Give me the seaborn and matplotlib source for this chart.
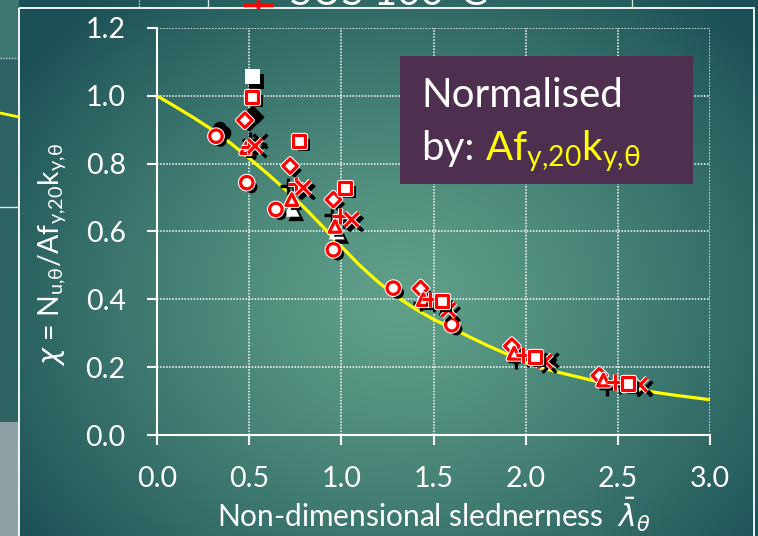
import numpy as np
import pandas as pd
import matplotlib
matplotlib.use("Agg")
import matplotlib.pyplot as plt
import matplotlib.patheffects as pe
from matplotlib.patches import Rectangle
import seaborn as sns

# ---------------- data ----------------
lam_curve = [0.0, 0.1, 0.2, 0.3, 0.4, 0.5, 0.6, 0.7, 0.8, 0.9, 1.0,
             1.1, 1.2, 1.3, 1.4, 1.5, 1.6, 1.7, 1.8, 1.9, 2.0,
             2.1, 2.2, 2.3, 2.4, 2.5, 2.6, 2.7, 2.8, 2.9, 3.0]
chi_curve = [1.000, 0.968, 0.935, 0.900, 0.860, 0.816, 0.770, 0.722, 0.670, 0.614, 0.556,
             0.500, 0.451, 0.408, 0.372, 0.341, 0.315, 0.288, 0.262, 0.238, 0.214,
             0.196, 0.182, 0.169, 0.156, 0.145, 0.135, 0.126, 0.118, 0.111, 0.104]

# FE-type results (red outlined markers), grouped by specimen series
fe_group = (["G1"] * 6 + ["G2"] * 6 + ["G3"] * 6 + ["G4"] * 6 + ["G5"] * 6 + ["G6"] * 6)
fe_lam = [0.320, 0.487, 0.645, 0.957, 1.282, 1.599,
          0.477, 0.722, 0.957, 1.430, 1.925, 2.400,
          0.487, 0.731, 0.966, 1.445, 1.937, 2.422,
          0.500, 0.752, 0.993, 1.480, 1.988, 2.485,
          0.532, 0.794, 1.056, 1.581, 2.105, 2.621,
          0.517, 0.771, 1.020, 1.545, 2.051, 2.557]
fe_chi = [0.881, 0.744, 0.665, 0.546, 0.433, 0.325,
          0.928, 0.793, 0.694, 0.432, 0.262, 0.175,
          0.847, 0.694, 0.615, 0.399, 0.241, 0.162,
          0.850, 0.739, 0.645, 0.400, 0.236, 0.157,
          0.852, 0.729, 0.635, 0.369, 0.217, 0.148,
          0.997, 0.867, 0.729, 0.394, 0.231, 0.152]

# Test-type results (black / white markers)
test_group = ["G1", "G2", "G3", "G3", "G6",
              "G4", "G4", "G4", "G4", "G4", "G4",
              "G5", "G5", "G5", "G5", "G5", "G5"]
test_lam = [0.342, 0.519, 0.731, 0.975, 0.517,
            0.505, 0.710, 0.948, 1.430, 1.950, 2.440,
            0.559, 0.810, 1.070, 1.570, 2.140, 2.650]
test_chi = [0.903, 0.950, 0.667, 0.600, 1.056,
            0.871, 0.733, 0.650, 0.390, 0.217, 0.140,
            0.866, 0.720, 0.625, 0.375, 0.222, 0.140]

x_ticks = [0.0, 0.5, 1.0, 1.5, 2.0, 2.5, 3.0]
y_ticks = [0.0, 0.2, 0.4, 0.6, 0.8, 1.0, 1.2]
x_label = r"Non-dimensional slednerness  $\bar{\lambda}_{\theta}$"
y_label = r"$\chi$ = N$_{\mathregular{u{,}θ}}$/Af$_{\mathregular{y{,}20}}$k$_{\mathregular{y{,}θ}}$"
note_line1 = "Normalised"
note_line2 = "by:"
note_yellow = r"Af$_{\mathregular{y{,}20}}$k$_{\mathregular{y{,}θ}}$"
top_text = "SUS 100°C"

# ---------------- styles ----------------
MARK = {"G1": "o", "G2": "D", "G3": "^", "G4": "+", "G5": "x", "G6": "s"}
FE_SIZE = {"G1": 80, "G2": 55, "G3": 70, "G4": 125, "G5": 100, "G6": 76}
TEST_SIZE = {"G1": 100, "G2": 60, "G3": 130, "G4": 125, "G5": 100, "G6": 115}
TEST_FILL = {"G1": "black", "G2": "black", "G3": "white", "G4": "black", "G5": "black", "G6": "white"}

sns.set_style("ticks")
plt.rcParams["font.family"] = ["Lato", "DejaVu Sans"]
plt.rcParams["mathtext.fontset"] = "dejavusans"

W, H = 758, 536
fig = plt.figure(figsize=(W / 100, H / 100), dpi=100)

# ---- background (slide) ----
bg = fig.add_axes([0, 0, 1, 1], zorder=-10)
bg.set_axis_off()
yy, xx = np.mgrid[0:H, 0:W]
d = np.sqrt((xx - 400.0) ** 2 + ((yy - 300.0) / 0.85) ** 2)
t = np.clip(d / 470.0, 0, 1) ** 1.25
light = np.array([96, 160, 137]) / 255
dark = np.array([27, 80, 86]) / 255
img = light * (1 - t[..., None]) + dark * t[..., None]
bg.imshow(img, extent=[0, W, H, 0], aspect="auto", interpolation="bilinear")
bg.set_xlim(0, W)
bg.set_ylim(H, 0)
# outside the panel: pieces of the slide behind
bg.add_patch(Rectangle((0, 0), 19, H, fc="#2d6463", ec="none"))
bg.add_patch(Rectangle((0, 0), 19, 58, fc="#3b766f", ec="none"))
bg.add_patch(Rectangle((0, 422), 19, H - 422, fc="#8ea2a6", ec="none"))
bg.plot([0, 19], [58, 58], color="#c9d6d4", lw=1, ls=(0, (1, 1)))
bg.plot([0, 19], [207, 207], color="#dfe8e6", lw=1)
bg.plot([0, 19], [113, 117], color="#ffff00", lw=2)
strip = Rectangle((0, 0), W, 8, transform=bg.transData)
for xv, ls in [(139, (0, (1, 1))), (208, "-"), (632, "-")]:
    bg.plot([xv, xv], [0, 8], color="#d8e4e2", lw=1, ls=ls)
mk, = bg.plot([258], [5], marker="+", color="red", ms=21, mew=2.5)
mk.set_clip_path(strip)
tt = bg.text(290, 5, top_text, color="white", fontsize=29, va="baseline", ha="left")
tt.set_clip_path(strip)
# panel frame
bg.add_patch(Rectangle((19, 8), 735, H, fill=False, ec="white", lw=1.3))

# ---- main axes ----
ax = fig.add_axes([157 / W, 1 - 435 / H, (710 - 157) / W, (435 - 28) / H])
ax.set_facecolor("none")

sns.lineplot(x=lam_curve, y=chi_curve, ax=ax, color="#ffff00", lw=2.3,
             estimator=None, sort=False, zorder=3)

sh = (3.2, -3.2)
test = pd.DataFrame({"lam": test_lam, "chi": test_chi, "group": test_group})
for g in MARK:
    sub = test[test["group"] == g]
    if sub.empty:
        continue
    if MARK[g] in ("+", "x"):
        sns.scatterplot(data=sub, x="lam", y="chi", ax=ax, marker=MARK[g], s=TEST_SIZE[g],
                        color=TEST_FILL[g], linewidth=2.4, zorder=4, legend=False)
    else:
        sns.scatterplot(data=sub, x="lam", y="chi", ax=ax, marker=MARK[g], s=TEST_SIZE[g],
                        color=TEST_FILL[g], edgecolor="none", linewidth=0, zorder=4, legend=False,
                        path_effects=[pe.SimplePatchShadow(offset=sh, shadow_rgbFace="black", alpha=1),
                                      pe.Normal()])

fe = pd.DataFrame({"lam": fe_lam, "chi": fe_chi, "group": fe_group})
for g in MARK:
    sub = fe[fe["group"] == g]
    if MARK[g] in ("+", "x"):
        sns.scatterplot(data=sub, x="lam", y="chi", ax=ax, marker=MARK[g], s=FE_SIZE[g],
                        color="red", linewidth=2.3, zorder=6, legend=False,
                        path_effects=[pe.SimpleLineShadow(offset=sh, shadow_color="black", alpha=1),
                                      pe.Stroke(linewidth=3.8, foreground="white"),
                                      pe.Normal()])
    else:
        sns.scatterplot(data=sub, x="lam", y="chi", ax=ax, marker=MARK[g], s=FE_SIZE[g],
                        color="white", edgecolor="red", linewidth=2.3, zorder=6, legend=False,
                        path_effects=[pe.SimplePatchShadow(offset=sh, shadow_rgbFace="black", alpha=1),
                                      pe.Stroke(linewidth=3.8, foreground="white"),
                                      pe.Normal()])

ax.set_xlim(0, 3.0)
ax.set_ylim(0, 1.2)
ax.set_xticks(x_ticks)
ax.set_yticks(y_ticks)
ax.set_xticklabels([f"{v:.1f}" for v in x_ticks])
ax.set_yticklabels([f"{v:.1f}" for v in y_ticks])
ax.grid(True, color="white", lw=1.1, ls=(0, (1, 1)), zorder=1)
ax.set_axisbelow(True)
for s in ("top", "right"):
    ax.spines[s].set_visible(False)
for s in ("left", "bottom"):
    ax.spines[s].set_color("white")
    ax.spines[s].set_linewidth(1.5)
    ax.spines[s].set_zorder(2)
ax.tick_params(axis="both", colors="white", labelcolor="white", direction="out",
               length=7.5, width=1.5, labelsize=20.5)
ax.tick_params(axis="x", pad=15)
ax.tick_params(axis="y", pad=15)

ax.set_xlabel(x_label, color="white", fontsize=21.5, va="baseline")
ax.xaxis.set_label_coords(0.5, (435 - 527) / 407)
ax.set_ylabel(y_label, color="white", fontsize=20.5, va="center")
ax.yaxis.set_label_coords((53 - 157) / 553, (435 - 254) / 407)

# ---- note box ----
fig.add_artist(Rectangle((400 / W, 1 - 184 / H), 293 / W, 128 / H,
                         transform=fig.transFigure, fc="#4f2f50", ec="none", zorder=5))
fig.text(421 / W, 1 - 107 / H, note_line1, color="white", fontsize=29,
         va="baseline", ha="left", zorder=6)
fig.text(421 / W, 1 - 160 / H, note_line2, color="white", fontsize=29,
         va="baseline", ha="left", zorder=6)
fig.text(485 / W, 1 - 160 / H, note_yellow, color="#ffff00", fontsize=29,
         va="baseline", ha="left", zorder=6)

fig.savefig("out.png", dpi=100)
